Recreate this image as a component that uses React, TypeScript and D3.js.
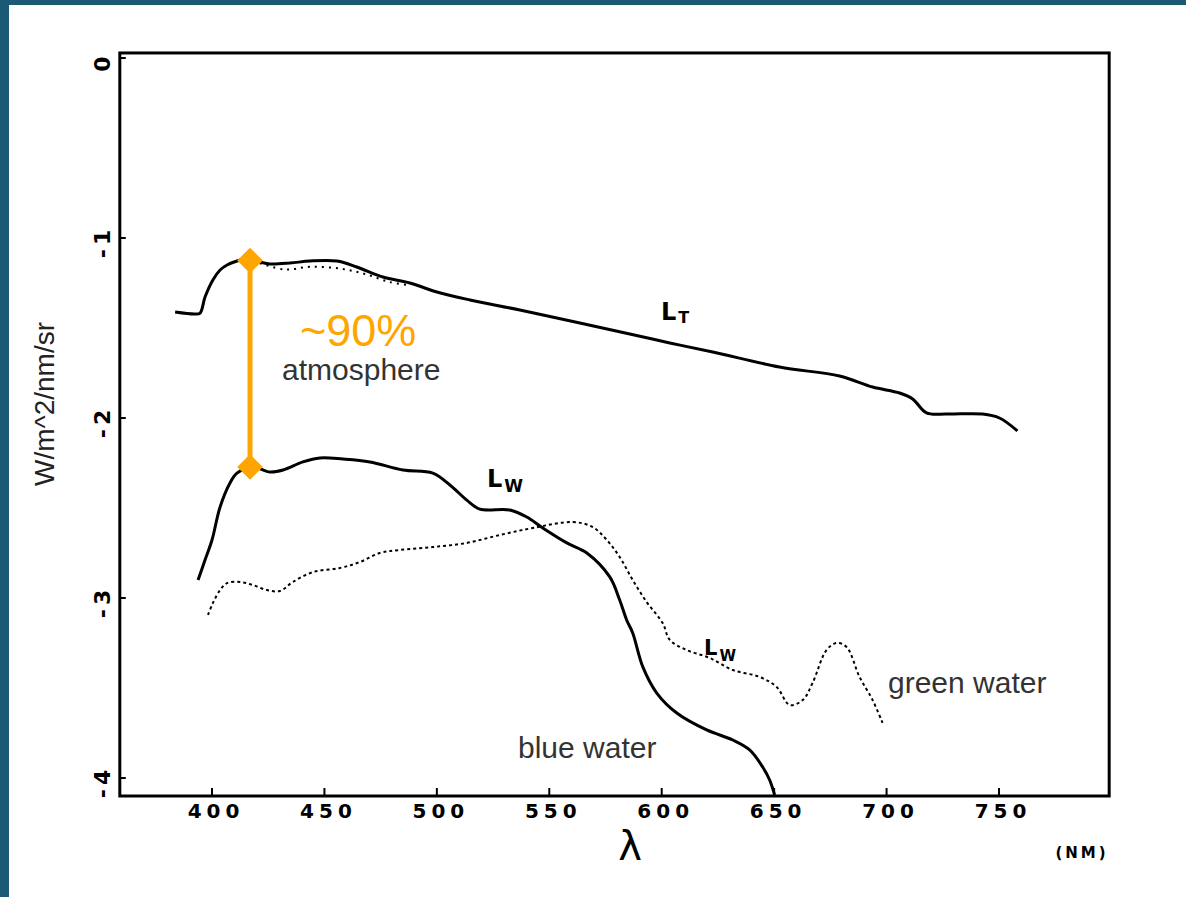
import * as d3 from 'd3';

const W = 1186;
const H = 897;

const lambdaTicks = [400, 450, 500, 550, 600, 650, 700, 750];
const radianceTicks = [0, -1, -2, -3, -4];

// L_T, total radiance at the sensor (solid, top)
const totalNm = [383.6, 392.4, 394.7, 396.9, 400.4, 403.6, 406.7, 411.1, 416.9, 421.3, 425.8, 434.7, 443.6, 455.6, 464.4, 476.0, 488.0, 500, 514.7, 536.9, 563.6, 585.8, 603.6, 622.7, 652.4, 679.1, 693.8, 705.8, 711.6, 717.8, 726.7, 742.7, 750.2, 758.2];
const totalVal = [-1.411, -1.422, -1.417, -1.328, -1.233, -1.178, -1.15, -1.128, -1.111, -1.133, -1.144, -1.139, -1.128, -1.128, -1.161, -1.217, -1.25, -1.3, -1.344, -1.4, -1.472, -1.533, -1.583, -1.633, -1.717, -1.767, -1.828, -1.861, -1.894, -1.972, -1.978, -1.978, -2.0, -2.072];

// L_T over green water (dotted, short stretch under L_T)
const totalGreenNm = [421.3, 432.4, 443.6, 456.9, 468, 479.1, 488];
const totalGreenVal = [-1.14, -1.175, -1.16, -1.17, -1.2, -1.245, -1.262];

// L_W blue water (solid)
const blueNm = [393.8, 396.9, 400, 403.6, 408, 411.1, 418.2, 425.8, 431.6, 440.4, 448, 458.2, 470.2, 484.9, 498.2, 505.8, 513.3, 519.1, 532.4, 540, 547.1, 557.8, 566.7, 576.9, 581.3, 584.4, 587.1, 591.6, 597.8, 606.7, 620, 631.6, 639.1, 644.9, 648, 650.2];
const blueVal = [-2.9, -2.789, -2.678, -2.494, -2.361, -2.306, -2.272, -2.3, -2.289, -2.244, -2.222, -2.228, -2.244, -2.289, -2.306, -2.372, -2.456, -2.506, -2.511, -2.55, -2.611, -2.694, -2.75, -2.883, -3.011, -3.122, -3.194, -3.383, -3.528, -3.639, -3.733, -3.789, -3.844, -3.939, -4.011, -4.094];

// L_W green water (dotted)
const greenNm = [398.2, 400.4, 403.6, 406.7, 412.4, 418.2, 424.4, 430.2, 436, 444.9, 456.9, 465.8, 474.7, 483.6, 498.2, 513.3, 528, 542.7, 560.4, 569.3, 575.6, 581.3, 587.1, 593.3, 600.4, 603.6, 611.1, 621.3, 631.6, 643.6, 651.1, 656.9, 662.7, 667.1, 673.3, 677.8, 682.2, 688, 693.8, 698.2];
const greenVal = [-3.094, -3.028, -2.956, -2.917, -2.911, -2.928, -2.956, -2.961, -2.911, -2.856, -2.833, -2.8, -2.75, -2.733, -2.717, -2.694, -2.65, -2.611, -2.578, -2.606, -2.678, -2.772, -2.9, -3.022, -3.139, -3.233, -3.289, -3.333, -3.4, -3.439, -3.494, -3.594, -3.567, -3.472, -3.289, -3.25, -3.272, -3.439, -3.567, -3.694];

// the ~90% bracket
const markerNm = 416.9;
const markerVals = [-1.125, -2.272];

const zip = (xs: number[], ys: number[]) => xs.map((v, i) => [v, ys[i]] as [number, number]);

export default function App() {
  const x = d3.scaleLinear().domain([400, 750]).range([212, 999]);
  const y = d3.scaleLinear().domain([0, -4]).range([58, 778]);

  const left = x(359);
  const right = x(799);
  const top = y(0.028);
  const bottom = y(-4.1);

  const line = d3
    .line<[number, number]>()
    .x((d) => x(d[0]))
    .y((d) => y(d[1]))
    .curve(d3.curveCatmullRom.alpha(0.5));

  const mx = x(markerNm);
  const diamond = d3.symbol().type(d3.symbolDiamond2).size(420)();

  const tickFont = { fontFamily: 'DejaVu Sans, sans-serif', fontWeight: 700, fontSize: 20, letterSpacing: 5 };
  const noteFont = { fontFamily: 'Liberation Sans, Arial, sans-serif', fontSize: 30, fill: '#333' };

  return (
    <svg width={W} height={H} style={{ position: 'absolute', left: 0, top: 0, background: '#fff' }}>
      <rect width={W} height={H} fill="#fff" />
      <rect width={9} height={H} fill="#1b5a77" />
      <rect width={W} height={5} fill="#1b5a77" />

      {/* frame */}
      <rect x={left} y={top} width={right - left} height={bottom - top} fill="none" stroke="#000" strokeWidth={3} />
      {lambdaTicks.map((t) => (
        <g key={t}>
          <line x1={x(t)} x2={x(t)} y1={bottom} y2={bottom - 8} stroke="#000" strokeWidth={2} />
          <text x={x(t) + 4} y={818} textAnchor="middle" style={tickFont}>
            {t}
          </text>
        </g>
      ))}
      {radianceTicks.map((t) => (
        <g key={t}>
          <line x1={left} x2={left + 6} y1={y(t)} y2={y(t)} stroke="#000" strokeWidth={2} />
          <text
            transform={`translate(${left - 10},${y(t) + 4}) rotate(-90)`}
            textAnchor="middle"
            style={{ ...tickFont, fontSize: 22, letterSpacing: 4 }}
          >
            {t === 0 ? '0' : `-${Math.abs(t)}`}
          </text>
        </g>
      ))}

      <text transform={`translate(54,404) rotate(-90)`} textAnchor="middle" style={{ ...noteFont, fontSize: 28, fill: '#222' }}>
        W/m^2/nm/sr
      </text>
      <text x={630} y={860} textAnchor="middle" style={{ fontFamily: 'DejaVu Sans, sans-serif', fontSize: 40, fontWeight: 400 }}>
        λ
      </text>
      <text x={1082} y={858} textAnchor="middle" style={{ ...tickFont, fontSize: 15, letterSpacing: 3 }}>
        (NM)
      </text>

      {/* curves */}
      <path d={line(zip(totalNm, totalVal)) ?? ''} fill="none" stroke="#000" strokeWidth={3} />
      <path d={line(zip(totalGreenNm, totalGreenVal)) ?? ''} fill="none" stroke="#000" strokeWidth={2} strokeDasharray="2 5" />
      <path d={line(zip(blueNm, blueVal)) ?? ''} fill="none" stroke="#000" strokeWidth={3} />
      <path d={line(zip(greenNm, greenVal)) ?? ''} fill="none" stroke="#000" strokeWidth={2} strokeDasharray="3 3" />

      {/* curve labels */}
      <text x={661} y={320} style={{ fontFamily: 'DejaVu Sans, sans-serif', fontWeight: 700, fontSize: 24 }}>
        L<tspan dx={2} dy={3} fontSize={16}>T</tspan>
      </text>
      <text x={487} y={487} style={{ fontFamily: 'DejaVu Sans, sans-serif', fontWeight: 700, fontSize: 24 }}>
        L<tspan dx={2} dy={5} fontSize={17}>W</tspan>
      </text>
      <text x={704} y={655} style={{ fontFamily: 'DejaVu Sans, sans-serif', fontWeight: 700, fontSize: 21 }}>
        L<tspan dx={2} dy={6} fontSize={15}>W</tspan>
      </text>

      {/* annotation */}
      <line x1={mx} x2={mx} y1={y(markerVals[0])} y2={y(markerVals[1])} stroke="#ffa500" strokeWidth={5} />
      {markerVals.map((v) => (
        <path key={v} d={diamond ?? ''} transform={`translate(${mx},${y(v)})`} fill="#ffa500" />
      ))}
      <text x={300} y={346} style={{ fontFamily: 'Liberation Sans, Arial, sans-serif', fontSize: 45, fill: '#ffa500' }}>
        ~90%
      </text>
      <text x={282} y={380} style={noteFont}>
        atmosphere
      </text>
      <text x={518} y={758} style={noteFont}>
        blue water
      </text>
      <text x={888} y={693} style={noteFont}>
        green water
      </text>
    </svg>
  );
}
